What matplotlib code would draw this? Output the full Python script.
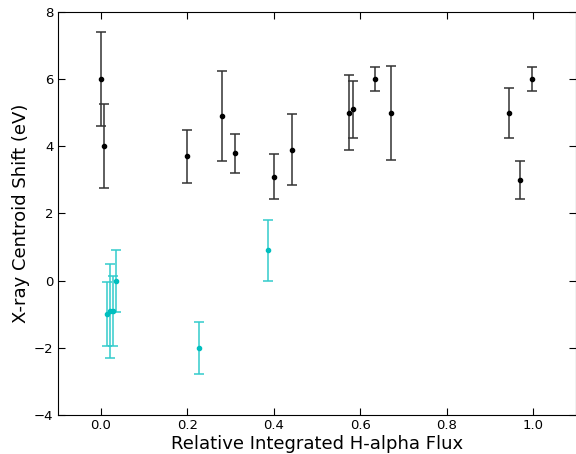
import numpy as np
import matplotlib
matplotlib.use("Agg")
import matplotlib.pyplot as plt

# black points
flux_k = [0.0, 0.007, 0.198, 0.279, 0.31, 0.40, 0.442, 0.574, 0.583, 0.634, 0.670, 0.945, 0.970, 0.998]
shift_k = [6.0, 4.0, 3.7, 4.9, 3.8, 3.1, 3.9, 5.0, 5.1, 6.0, 5.0, 5.0, 3.0, 6.0]
err_k = [1.4, 1.25, 0.8, 1.35, 0.58, 0.68, 1.05, 1.12, 0.85, 0.35, 1.4, 0.75, 0.57, 0.35]

# cyan points
flux_c = [0.013, 0.021, 0.027, 0.035, 0.226, 0.387]
shift_c = [-1.0, -0.9, -0.9, 0.0, -2.0, 0.9]
err_c = [0.95, 1.4, 1.05, 0.92, 0.78, 0.92]

fig = plt.figure(figsize=(5.76, 4.54), dpi=100)
ax = fig.add_axes([0.1003, 0.0859, 0.9005, 0.8877])

ax.errorbar(flux_k, shift_k, yerr=err_k, fmt='o', color='k', ms=3,
            ecolor='#333333', elinewidth=1.1, capsize=3.5, capthick=1.1)
ax.errorbar(flux_c, shift_c, yerr=err_c, fmt='o', color='#00bfbf', ms=3,
            ecolor='#33cccc', elinewidth=1.1, capsize=3.5, capthick=1.1)

ax.set_xlim(-0.1, 1.1)
ax.set_ylim(-4, 8)
ax.set_xticks([0.0, 0.2, 0.4, 0.6, 0.8, 1.0])
ax.set_yticks([-4, -2, 0, 2, 4, 6, 8])
ax.tick_params(direction='in', top=True, right=True, length=5, labelsize=9.5, pad=3)
ax.set_xlabel("Relative Integrated H-alpha Flux", fontsize=13, labelpad=2)
ax.set_ylabel("X-ray Centroid Shift (eV)", fontsize=13, labelpad=3)

fig.savefig("out.png", dpi=100)
